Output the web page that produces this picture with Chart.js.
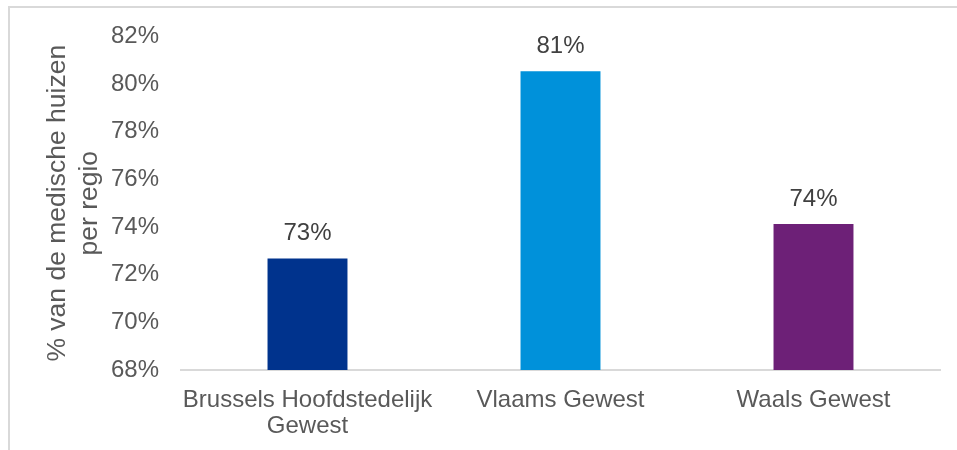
<!DOCTYPE html>
<html>
<head>
<meta charset="utf-8">
<script src="https://cdn.jsdelivr.net/npm/chart.js@4"></script>
<style>
    body { margin: 0; background: #fff; overflow: hidden; }
    #wrap { position: relative; width: 957px; height: 450px; }
    #kader { position: absolute; left: 8px; top: 6px; width: 1000px; height: 500px; border: 2px solid #d9d9d9; }
    #grafReg { position: absolute; left: 0; top: 0; }
</style>
</head>
<body>
<div id="wrap">
    <div id="kader"></div>
    <canvas id="grafReg" width="957" height="450"></canvas>
</div>
<script>
const regios = [['Brussels Hoofdstedelijk', 'Gewest'], 'Vlaams Gewest', 'Waals Gewest'];
const aandeel = [72.68, 80.54, 74.13];
const kleuren = ['#00338d', '#0091da', '#6d2077'];
const yMin = 68, yMax = 82, yStap = 2;
const yTitel = ['% van de medische huizen', 'per regio'];

const lettertype = 'Arial, "Liberation Sans", sans-serif';

const labelPlugin = {
    id: 'waardeLabels',
    afterDatasetsDraw(chart) {
        const ctx = chart.ctx;
        const meta = chart.getDatasetMeta(0);
        ctx.save();
        ctx.font = '24px ' + lettertype;
        ctx.fillStyle = '#404040';
        ctx.textAlign = 'center';
        ctx.textBaseline = 'middle';
        meta.data.forEach(function(b, i) {
            ctx.fillText(Math.round(aandeel[i]) + '%', b.x, b.y - 25);
        });
        ctx.restore();
    }
};

function iniGraf() {
    const ctx = document.getElementById('grafReg').getContext('2d');
    window.mGraf = new Chart(ctx, {
        type: 'bar',
        data: {
            labels: regios,
            datasets: [{
                data: aandeel,
                backgroundColor: kleuren,
                borderWidth: 0,
                categoryPercentage: 1,
                barPercentage: 0.316
            }]
        },
        options: {
            responsive: false,
            animation: false,
            layout: { padding: { left: 0, right: 17, top: 36, bottom: 0 } },
            plugins: {
                legend: { display: false },
                tooltip: { enabled: false }
            },
            scales: {
                x: {
                    grid: { display: false, drawTicks: false },
                    border: { display: true, color: '#d9d9d9', width: 2 },
                    ticks: {
                        color: '#595959',
                        padding: 17,
                        maxRotation: 0,
                        autoSkip: false,
                        font: { family: lettertype, size: 24, lineHeight: 1.08 }
                    },
                    afterFit: function(s) { s.height = 80; }
                },
                y: {
                    min: yMin,
                    max: yMax,
                    grid: { display: false, drawTicks: false },
                    border: { display: false },
                    ticks: {
                        stepSize: yStap,
                        color: '#595959',
                        padding: 22,
                        font: { family: lettertype, size: 24 },
                        callback: function(v) { return v + '%'; }
                    },
                    title: {
                        display: true,
                        text: yTitel,
                        color: '#595959',
                        padding: { top: 42, bottom: 0 },
                        font: { family: lettertype, size: 26.5, lineHeight: 1.21 }
                    },
                    afterFit: function(s) { s.width = 181; }
                }
            }
        },
        plugins: [labelPlugin]
    });
}

document.addEventListener('DOMContentLoaded', function() {
    iniGraf();
});
</script>
</body>
</html>
